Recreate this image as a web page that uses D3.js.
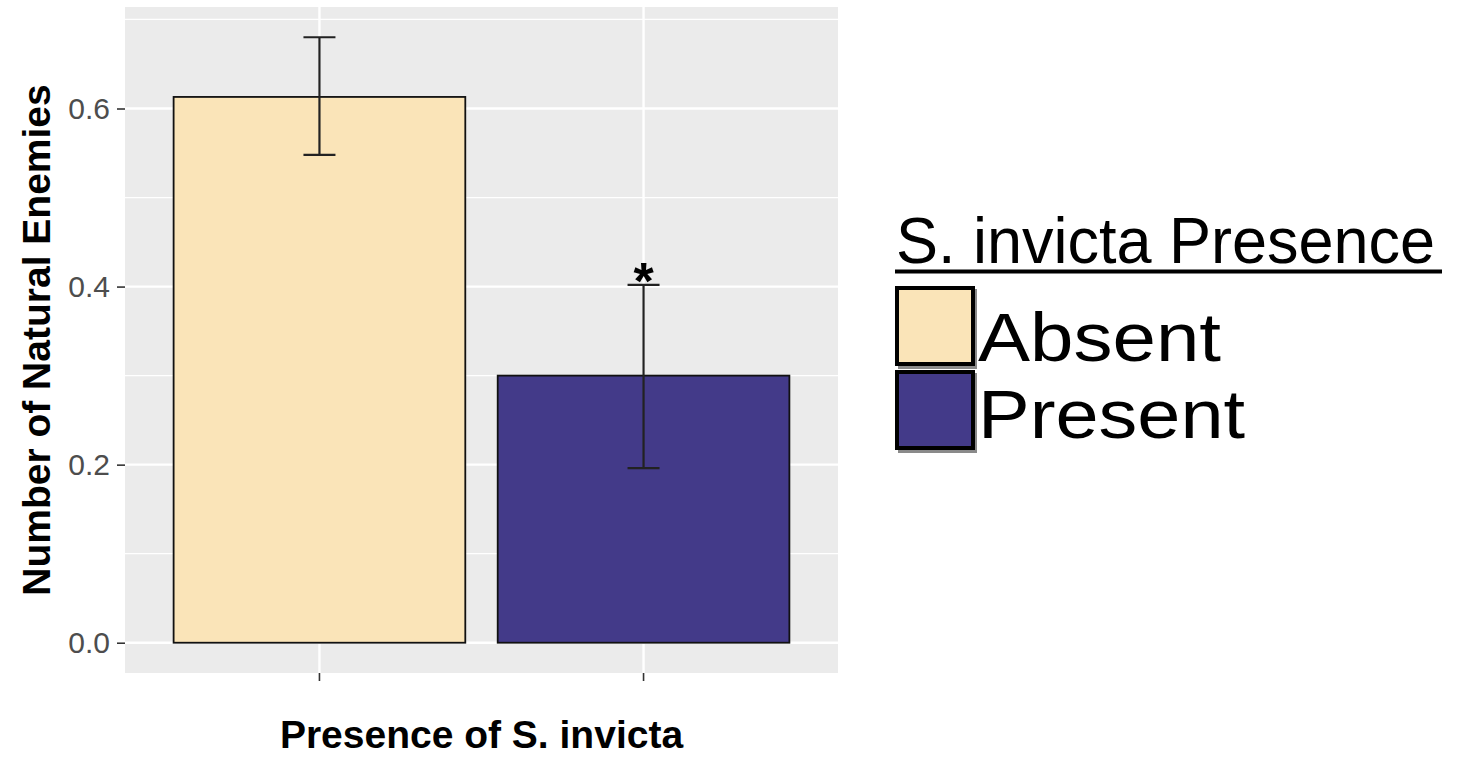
<!DOCTYPE html>
<html>
<head>
<meta charset="utf-8">
<script src="https://cdn.jsdelivr.net/npm/d3@7"></script>
<style>
  body { margin: 0; background: #fff; }
  svg { display: block; font-family: "Liberation Sans", Arial, sans-serif; }
</style>
</head>
<body>
<div id="chart"></div>
<script>
const categories = ["Absent", "Present"];
const means = [0.613, 0.300];
const errLow = [0.548, 0.196];
const errHigh = [0.680, 0.402];
const signif = ["", "*"];
const yTicks = [0.0, 0.2, 0.4, 0.6];
const yMinor = [0.1, 0.3, 0.5, 0.7];
const colors = ["#FAE4B8", "#433A89"];
const legendTitle = "S. invicta Presence";

const W = 1468, H = 757;
const panel = { left: 125, right: 838, top: 7, bottom: 673 };

const svg = d3.select("#chart").append("svg")
    .attr("width", W)
    .attr("height", H);

// scales (ggplot-like expansion)
const x = d3.scaleBand()
    .domain(categories)
    .range([panel.left, panel.right])
    .paddingInner(0)
    .paddingOuter(0.1);
const barW = x.bandwidth() * 0.9;

const yMax = d3.max(errHigh);
const pad = yMax * 0.05;
const y = d3.scaleLinear()
    .domain([-pad, yMax + pad])
    .range([panel.bottom, panel.top]);

// panel background
svg.append("rect")
    .attr("x", panel.left).attr("y", panel.top)
    .attr("width", panel.right - panel.left)
    .attr("height", panel.bottom - panel.top)
    .attr("fill", "#EBEBEB");

// grid
svg.append("g").selectAll("line")
    .data(yMinor)
    .join("line")
    .attr("x1", panel.left).attr("x2", panel.right)
    .attr("y1", d => y(d)).attr("y2", d => y(d))
    .attr("stroke", "#fff").attr("stroke-width", 1.2);
svg.append("g").selectAll("line")
    .data(yTicks)
    .join("line")
    .attr("x1", panel.left).attr("x2", panel.right)
    .attr("y1", d => y(d)).attr("y2", d => y(d))
    .attr("stroke", "#fff").attr("stroke-width", 2.4);
svg.append("g").selectAll("line")
    .data(categories)
    .join("line")
    .attr("x1", d => x(d) + x.bandwidth() / 2).attr("x2", d => x(d) + x.bandwidth() / 2)
    .attr("y1", panel.top).attr("y2", panel.bottom)
    .attr("stroke", "#fff").attr("stroke-width", 2.4);

// bars
svg.append("g").selectAll("rect")
    .data(categories)
    .join("rect")
    .attr("x", d => x(d) + (x.bandwidth() - barW) / 2)
    .attr("y", (d, i) => y(means[i]))
    .attr("width", barW)
    .attr("height", (d, i) => y(0) - y(means[i]))
    .attr("fill", (d, i) => colors[i])
    .attr("stroke", "#111")
    .attr("stroke-width", 1.8);

// error bars
const eb = svg.append("g").attr("stroke", "#222").attr("stroke-width", 2.2);
categories.forEach((c, i) => {
    const cx = x(c) + x.bandwidth() / 2;
    eb.append("line").attr("x1", cx).attr("x2", cx)
        .attr("y1", y(errLow[i])).attr("y2", y(errHigh[i]));
    [errLow[i], errHigh[i]].forEach(v => {
        eb.append("line").attr("x1", cx - 16).attr("x2", cx + 16)
            .attr("y1", y(v)).attr("y2", y(v));
    });
    if (signif[i]) {
        svg.append("text")
            .attr("x", cx).attr("y", y(errHigh[i]) + 14)
            .attr("text-anchor", "middle")
            .attr("font-size", 52).attr("font-weight", "bold")
            .attr("fill", "#000")
            .text(signif[i]);
    }
});

// y axis
const yAxis = svg.append("g")
    .attr("transform", `translate(${panel.left},0)`)
    .call(d3.axisLeft(y).tickValues(yTicks).tickFormat(d3.format(".1f")).tickSize(8).tickPadding(7));
yAxis.select(".domain").remove();
yAxis.selectAll(".tick line").attr("stroke", "#333").attr("stroke-width", 1.6);
yAxis.selectAll(".tick text")
    .attr("fill", "#4D4D4D")
    .attr("font-size", 30)
    .attr("font-family", "Liberation Sans, Arial, sans-serif");

// x axis
const xAxis = svg.append("g")
    .attr("transform", `translate(0,${panel.bottom})`)
    .call(d3.axisBottom(x).tickSize(8).tickFormat(""));
xAxis.select(".domain").remove();
xAxis.selectAll(".tick line").attr("stroke", "#333").attr("stroke-width", 1.6);

// axis titles
svg.append("text")
    .attr("x", (panel.left + panel.right) / 2)
    .attr("y", 748)
    .attr("text-anchor", "middle")
    .attr("font-size", 39).attr("font-weight", "bold")
    .attr("fill", "#000")
    .text("Presence of S. invicta");

svg.append("text")
    .attr("transform", `translate(50,${(panel.top + panel.bottom) / 2}) rotate(-90)`)
    .attr("text-anchor", "middle")
    .attr("font-size", 39).attr("font-weight", "bold")
    .attr("fill", "#000")
    .text("Number of Natural Enemies");

// legend
const lg = svg.append("g").attr("transform", "translate(895,0)");
lg.append("text")
    .attr("x", 1).attr("y", 263)
    .attr("font-size", 64)
    .attr("textLength", 539).attr("lengthAdjust", "spacingAndGlyphs")
    .attr("fill", "#000")
    .text(legendTitle);
lg.append("line")
    .attr("x1", 0).attr("x2", 547)
    .attr("y1", 271.5).attr("y2", 271.5)
    .attr("stroke", "#000").attr("stroke-width", 4);

const keyY = [286, 370];
const labelY = [361, 438];
const labelLen = [243, 267];
categories.forEach((c, i) => {
    lg.append("rect")
        .attr("x", 3).attr("y", keyY[i] + 3)
        .attr("width", 79).attr("height", 80)
        .attr("fill", "#8a8a8a");
    lg.append("rect")
        .attr("x", 2).attr("y", keyY[i] + 2)
        .attr("width", 76).attr("height", 76)
        .attr("fill", colors[i])
        .attr("stroke", "#000").attr("stroke-width", 4);
    lg.append("text")
        .attr("x", 83).attr("y", labelY[i])
        .attr("font-size", 68)
        .attr("textLength", labelLen[i]).attr("lengthAdjust", "spacingAndGlyphs")
        .attr("fill", "#000")
        .text(c);
});
</script>
</body>
</html>
